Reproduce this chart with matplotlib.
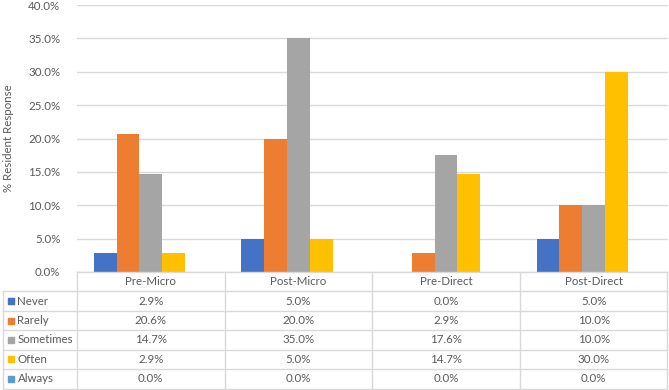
import matplotlib
matplotlib.use("Agg")
import matplotlib.pyplot as plt
import numpy as np

categories = ["Pre-Micro", "Post-Micro", "Pre-Direct", "Post-Direct"]
series_names = ["Never", "Rarely", "Sometimes", "Often", "Always"]
never = [2.9, 5.0, 0.0, 5.0]
rarely = [20.6, 20.0, 2.9, 10.0]
sometimes = [14.7, 35.0, 17.6, 10.0]
often = [2.9, 5.0, 14.7, 30.0]
always = [0.0, 0.0, 0.0, 0.0]
values = [never, rarely, sometimes, often, always]
colors = ["#4472C4", "#ED7D31", "#A5A5A5", "#FFC000", "#5B9BD5"]
yticks = [0, 5, 10, 15, 20, 25, 30, 35, 40]

W, H = 669, 390
fig = plt.figure(figsize=(W / 100, H / 100), dpi=100)
plt.rcParams['font.family'] = ['Lato', 'DejaVu Sans']
txt = "#595959"
grid = "#D9D9D9"
fs = 8.3

# main axes (pixels)
L, R, T, B = 77, 667.5, 5, 272
ax = fig.add_axes([L / W, 1 - B / H, (R - L) / W, (B - T) / H])
n = len(series_names)
bw = 0.1546
x = np.arange(len(categories))
for i, (name, vals, c) in enumerate(zip(series_names, values, colors)):
    ax.bar(x + (i - (n - 1) / 2) * bw, vals, width=bw, color=c, label=name, zorder=3)
ax.set_xlim(-0.5, len(categories) - 0.5)
ax.set_ylim(0, 40)
ax.set_yticks(yticks)
ax.set_yticklabels([f"{v:.1f}%" for v in yticks], color=txt, fontsize=fs)
ax.tick_params(axis='y', length=0, pad=12)
ax.set_xticks([])
ax.grid(axis='y', color=grid, linewidth=1.0, zorder=0)
for s in ax.spines.values():
    s.set_visible(False)
fig.text(8.5 / W, 1 - 138.5 / H, "% Resident Response", rotation=90, ha='center', va='center',
         color=txt, fontsize=fs)

# table axes
TL, TB = 3, 388.5
tab = fig.add_axes([TL / W, 1 - TB / H, (R - TL) / W, (TB - B) / H])
tab.set_xlim(-1.0, len(categories) - 0.5)
nrows = len(series_names) + 1
tab.set_ylim(nrows, 0)
tab.axis('off')
lw = 1.0
# horizontal lines
tab.plot([-0.5, 3.5], [0, 0], color=grid, lw=lw, clip_on=False)
for r in range(1, nrows + 1):
    tab.plot([-1.0, 3.5], [r, r], color=grid, lw=lw, clip_on=False)
# vertical lines
for cx in [-0.5, 0.5, 1.5, 2.5, 3.5]:
    tab.plot([cx, cx], [0, nrows], color=grid, lw=lw, clip_on=False)
tab.plot([-1.0, -1.0], [1, nrows], color=grid, lw=lw, clip_on=False)
# header
for j, cat in enumerate(categories):
    tab.text(j, 0.5, cat, ha='center', va='center', color=txt, fontsize=fs)
# rows
for i, (name, vals, c) in enumerate(zip(series_names, values, colors)):
    r = i + 1.5
    tab.scatter([-0.948], [r], marker='s', s=24, color=c, clip_on=False)
    tab.text(-0.902, r, name, ha='left', va='center', color=txt, fontsize=fs)
    for j, v in enumerate(vals):
        tab.text(j, r, f"{v:.1f}%", ha='center', va='center', color=txt, fontsize=fs)

fig.savefig("out.png", dpi=100)
